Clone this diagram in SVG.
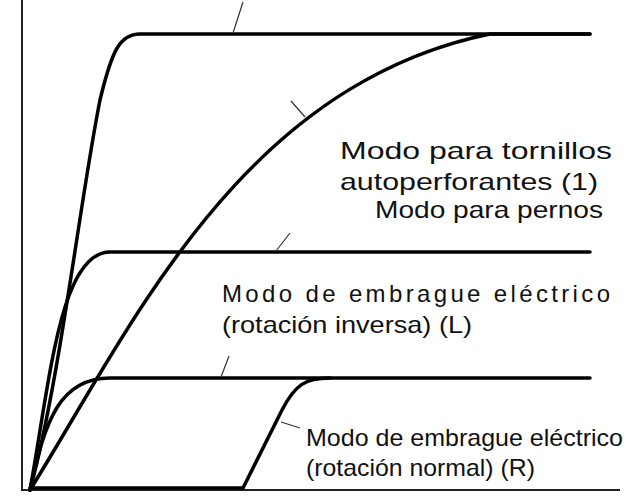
<svg xmlns="http://www.w3.org/2000/svg" width="626" height="504" viewBox="0 0 626 504">
<style>
.c{fill:none;stroke:#000;stroke-width:3.5;stroke-linecap:round}
.l{fill:none;stroke:#333;stroke-width:1.2}
text{font-family:"Liberation Sans",Arial,sans-serif;font-size:24px;fill:#111}
</style>
<rect width="626" height="504" fill="#fff"/>
<g id="axes"><path d="M22 0V490H620" fill="none" stroke="#222" stroke-width="2"/></g>
<g id="connectors">
<path class="c" d="M30 490C60 380 80 200 100 100C112 50 120 34 140 34H590"/>
<path class="c" d="M30 490C130 330 240 85 490 34H590"/>
<path class="c" d="M30 490C50 380 60 252 110 252H590"/>
<path class="c" d="M30 490C45 420 60 378 110 378H590"/>
<path class="c" d="M30 488H243L282 410C295 385 305 378 330 378"/>
<path class="l" d="M243 2L233 33M305 117L291 101M290 233L276 251M229 356L221 377M300 428L281 422"/>
</g>
<g id="n1"><text x="340" y="159" font-size="24" textLength="272" lengthAdjust="spacingAndGlyphs">Modo para tornillos</text><text x="340" y="190" font-size="24" textLength="258" lengthAdjust="spacingAndGlyphs">autoperforantes (1)</text></g>
<g id="n2"><text x="375" y="218" font-size="24" textLength="228" lengthAdjust="spacingAndGlyphs">Modo para pernos</text></g>
<g id="n3"><text x="222" y="302" font-size="24" textLength="388" lengthAdjust="spacing">Modo de embrague eléctrico</text><text x="222" y="333" font-size="24" textLength="250" lengthAdjust="spacingAndGlyphs">(rotación inversa) (L)</text></g>
<g id="n4"><text x="306" y="446" font-size="24" textLength="317" lengthAdjust="spacingAndGlyphs">Modo de embrague eléctrico</text><text x="306" y="476" font-size="24" textLength="229" lengthAdjust="spacingAndGlyphs">(rotación normal) (R)</text></g>
</svg>
